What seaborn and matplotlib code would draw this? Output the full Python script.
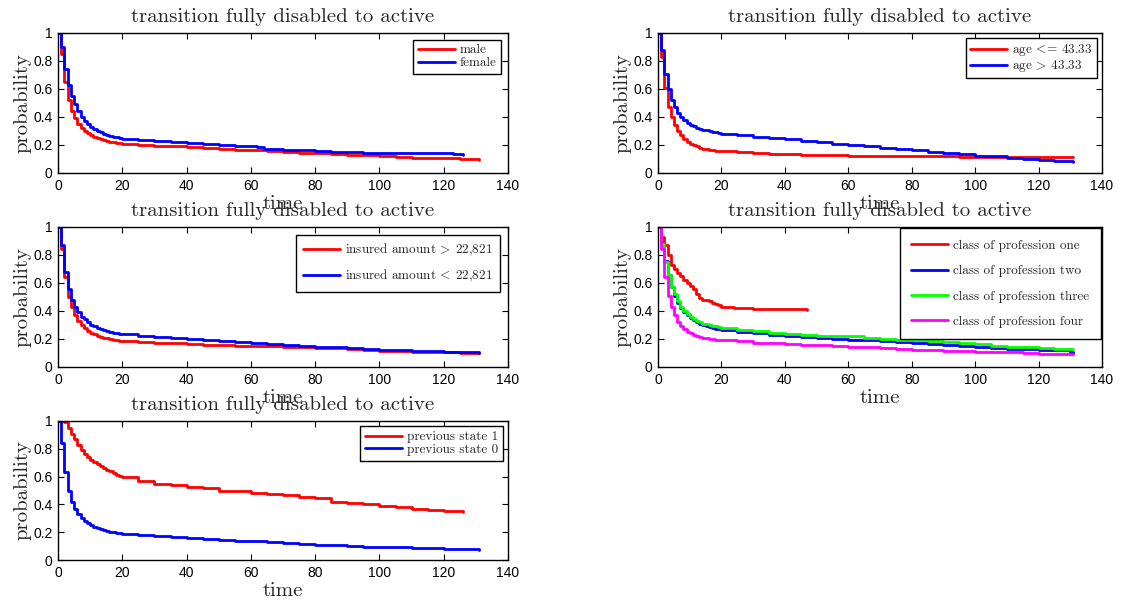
import seaborn as sns
import matplotlib.pyplot as plt
import pandas as pd

sns.set_style("ticks")
plt.rcParams["font.family"] = ["cmr10", "DejaVu Serif"]
plt.rcParams["axes.unicode_minus"] = False
plt.rcParams["mathtext.fontset"] = "cm"

# --- Kaplan-Meier style estimates (time in months) ---
title = "transition fully disabled to active"

early = [0, 1, 2, 3, 4, 5, 6, 7, 8, 9, 10, 11, 12, 13, 14, 15, 16, 17, 18, 19, 20]
late = [25, 30, 35, 40, 45, 50, 55, 60, 65, 70, 75, 80, 85, 90, 95, 100, 105, 110, 115, 120, 125]

# panel 1: gender
male_t = early + late + [131]
male_p = [1, .85, .65, .52, .44, .39, .35, .32, .30, .285, .27, .26, .25, .242, .235, .23, .225, .22, .215, .212, .21,
          .20, .195, .19, .183, .178, .172, .167, .162, .155, .15, .146, .142, .137, .132, .126, .12, .115, .11, .107,
          .104, .10, .095]
female_t = early + [25, 30, 35, 40, 45, 50, 55, 60, 62, 64, 66, 70, 75, 80, 85, 90, 95, 100, 110, 120, 123, 126]
female_p = [1, .9, .74, .63, .55, .49, .44, .40, .37, .35, .33, .315, .30, .29, .28, .272, .265, .26, .255, .25, .245,
            .235, .228, .22, .212, .205, .20, .195, .19, .185, .175, .168, .165, .162, .158, .153, .148, .143, .14,
            .14, .14, .135, .13]

# panel 2: age
young_t = early + late + [131]
young_p = [1, .83, .61, .47, .40, .34, .30, .27, .245, .225, .21, .20, .19, .182, .175, .17, .165, .162, .16, .157, .155,
           .148, .142, .138, .134, .131, .128, .126, .124, .122, .121, .12, .12, .119, .118, .117, .116, .115, .115,
           .115, .115, .115, .115]
old_t = early + late + [131]
old_p = [1, .88, .71, .60, .52, .47, .43, .40, .38, .36, .345, .335, .325, .317, .31, .305, .30, .295, .29, .285, .28,
         .27, .26, .25, .24, .23, .22, .21, .20, .19, .182, .172, .163, .152, .142, .133, .125, .118, .11, .10, .09,
         .085, .08]

# panel 3: insured amount
ins_hi_t = early + late + [131]
ins_hi_p = [1, .84, .64, .50, .43, .37, .33, .30, .28, .26, .245, .235, .225, .217, .21, .205, .20, .195, .19, .187,
            .185, .18, .175, .17, .165, .16, .157, .153, .15, .147, .144, .141, .138, .134, .13, .125, .117, .112,
            .11, .108, .105, .102, .10]
ins_lo_t = early + late + [131]
ins_lo_p = [1, .87, .68, .56, .48, .43, .39, .36, .34, .32, .30, .29, .28, .272, .265, .258, .25, .245, .24, .237,
            .235, .225, .215, .205, .198, .19, .183, .177, .17, .163, .157, .151, .145, .14, .135, .13, .125, .12,
            .116, .113, .11, .105, .10]

# panel 4: class of profession
prof1_t = early + [24, 30, 40, 47]
prof1_p = [1, .93, .87, .80, .73, .70, .67, .65, .62, .60, .58, .56, .52, .49, .48, .48, .47, .46, .45, .44, .43,
           .42, .415, .415, .41]
prof2_t = early + late + [129, 130, 131]
prof2_p = [1, .88, .76, .66, .57, .51, .46, .42, .39, .37, .35, .335, .32, .31, .30, .29, .285, .28, .275, .27, .265,
           .25, .24, .23, .22, .215, .21, .20, .195, .19, .185, .18, .175, .165, .157, .15, .14, .135, .13, .127, .125,
           .122, .12, .11, .10]
prof3_t = early + late + [131]
prof3_p = [1, .88, .75, .66, .57, .52, .47, .43, .40, .38, .36, .345, .33, .32, .31, .305, .30, .295, .29, .285, .28,
           .265, .255, .245, .235, .23, .225, .222, .22, .21, .20, .195, .19, .185, .18, .172, .165, .15, .145, .142,
           .135, .132, .13]
prof4_t = early + late + [131]
prof4_p = [1, .84, .64, .51, .43, .37, .32, .29, .27, .25, .24, .23, .22, .215, .21, .205, .20, .197, .195, .192, .19,
           .185, .175, .17, .165, .16, .155, .15, .145, .14, .135, .13, .125, .12, .115, .112, .11, .107, .105, .10,
           .095, .092, .09]

# panel 5: previous state
prev1_t = early + late[:-1] + [126]
prev1_p = [1, 1, .99, .95, .91, .87, .83, .79, .76, .74, .72, .705, .69, .675, .66, .65, .64, .628, .615, .607, .60,
           .57, .55, .54, .528, .515, .50, .495, .485, .472, .465, .455, .445, .42, .41, .40, .39, .38, .37, .362,
           .352, .345]
prev0_t = early + late + [131]
prev0_p = [1, .84, .63, .50, .42, .37, .33, .30, .28, .265, .25, .24, .23, .222, .215, .21, .205, .20, .195, .192, .19,
           .18, .17, .162, .155, .15, .145, .14, .135, .128, .122, .116, .11, .105, .10, .097, .094, .09, .087, .084,
           .08, .077, .075]

# curves per panel, then legend (labelspacing, borderpad, borderaxespad)
panels = [
    ([(male_t, male_p, "male", "red"), (female_t, female_p, "female", "blue")], (0.05, 0.35, 0.5)),
    ([(young_t, young_p, r"age $\!<\!$= 43.33", "red"), (old_t, old_p, r"age $\!>\!$ 43.33", "blue")],
     (0.0, 0.3, 0.4)),
    ([(ins_hi_t, ins_hi_p, r"insured amount $\!>\!$ 22,821", "red"),
      (ins_lo_t, ins_lo_p, r"insured amount $\!<\!$ 22,821", "blue")], (0.75, 0.55, 0.6)),
    ([(prof1_t, prof1_p, "class of profession one", "red"),
      (prof2_t, prof2_p, "class of profession two", "blue"),
      (prof3_t, prof3_p, "class of profession three", "lime"),
      (prof4_t, prof4_p, "class of profession four", "magenta")], (1.0, 0.85, 0.1)),
    ([(prev1_t, prev1_p, "previous state 1", "red"), (prev0_t, prev0_p, "previous state 0", "blue")],
     (0.05, 0.35, 0.4)),
]

W, H = 1139, 601
# axes rectangles in pixels: left, top, width, height
rects = [(58, 33, 450, 140), (658, 33, 444, 140),
         (58, 227, 450, 140), (658, 227, 444, 140),
         (58, 421, 450, 139)]

fig = plt.figure(figsize=(W / 100, H / 100), dpi=100)

for (curves, (lspace, bpad, axpad)), (l, t, w, h) in zip(panels, rects):
    ax = fig.add_axes([l / W, 1 - (t + h) / H, w / W, h / H])
    for tt, pp, lab, col in curves:
        df = pd.DataFrame({"time": tt, "prob": pp})
        sns.lineplot(data=df, x="time", y="prob", color=col, label=lab, ax=ax,
                     drawstyle="steps-post", linewidth=2, legend=False)
    ax.set_xlim(0, 140)
    ax.set_ylim(0, 1)
    ax.set_xticks(range(0, 141, 20))
    ax.set_yticks([0, 0.2, 0.4, 0.6, 0.8, 1])
    ax.set_yticklabels(["0", "0.2", "0.4", "0.6", "0.8", "1"])
    for lbl in ax.get_xticklabels() + ax.get_yticklabels():
        lbl.set_family(["Liberation Sans", "DejaVu Sans"])
        lbl.set_fontsize(10)
    ax.tick_params(direction="in", top=True, right=True, length=4, width=0.8, pad=4, colors="black")
    for s in ax.spines.values():
        s.set_visible(True)
        s.set_linewidth(1.0)
        s.set_color("black")
    ax.set_title(title, fontsize=15, pad=8)
    ax.set_xlabel("time", fontsize=15, labelpad=2)
    ax.set_ylabel("probability", fontsize=15, labelpad=1)
    leg = ax.legend(loc="upper right", fontsize=9.5, frameon=True, fancybox=False,
                    borderaxespad=axpad, handlelength=2.8, labelspacing=lspace,
                    borderpad=bpad, handletextpad=0.4)
    leg.get_frame().set_edgecolor("black")
    leg.get_frame().set_linewidth(1.0)
    leg.get_frame().set_alpha(1)

fig.savefig("out.png", dpi=100)
plt.close(fig)
